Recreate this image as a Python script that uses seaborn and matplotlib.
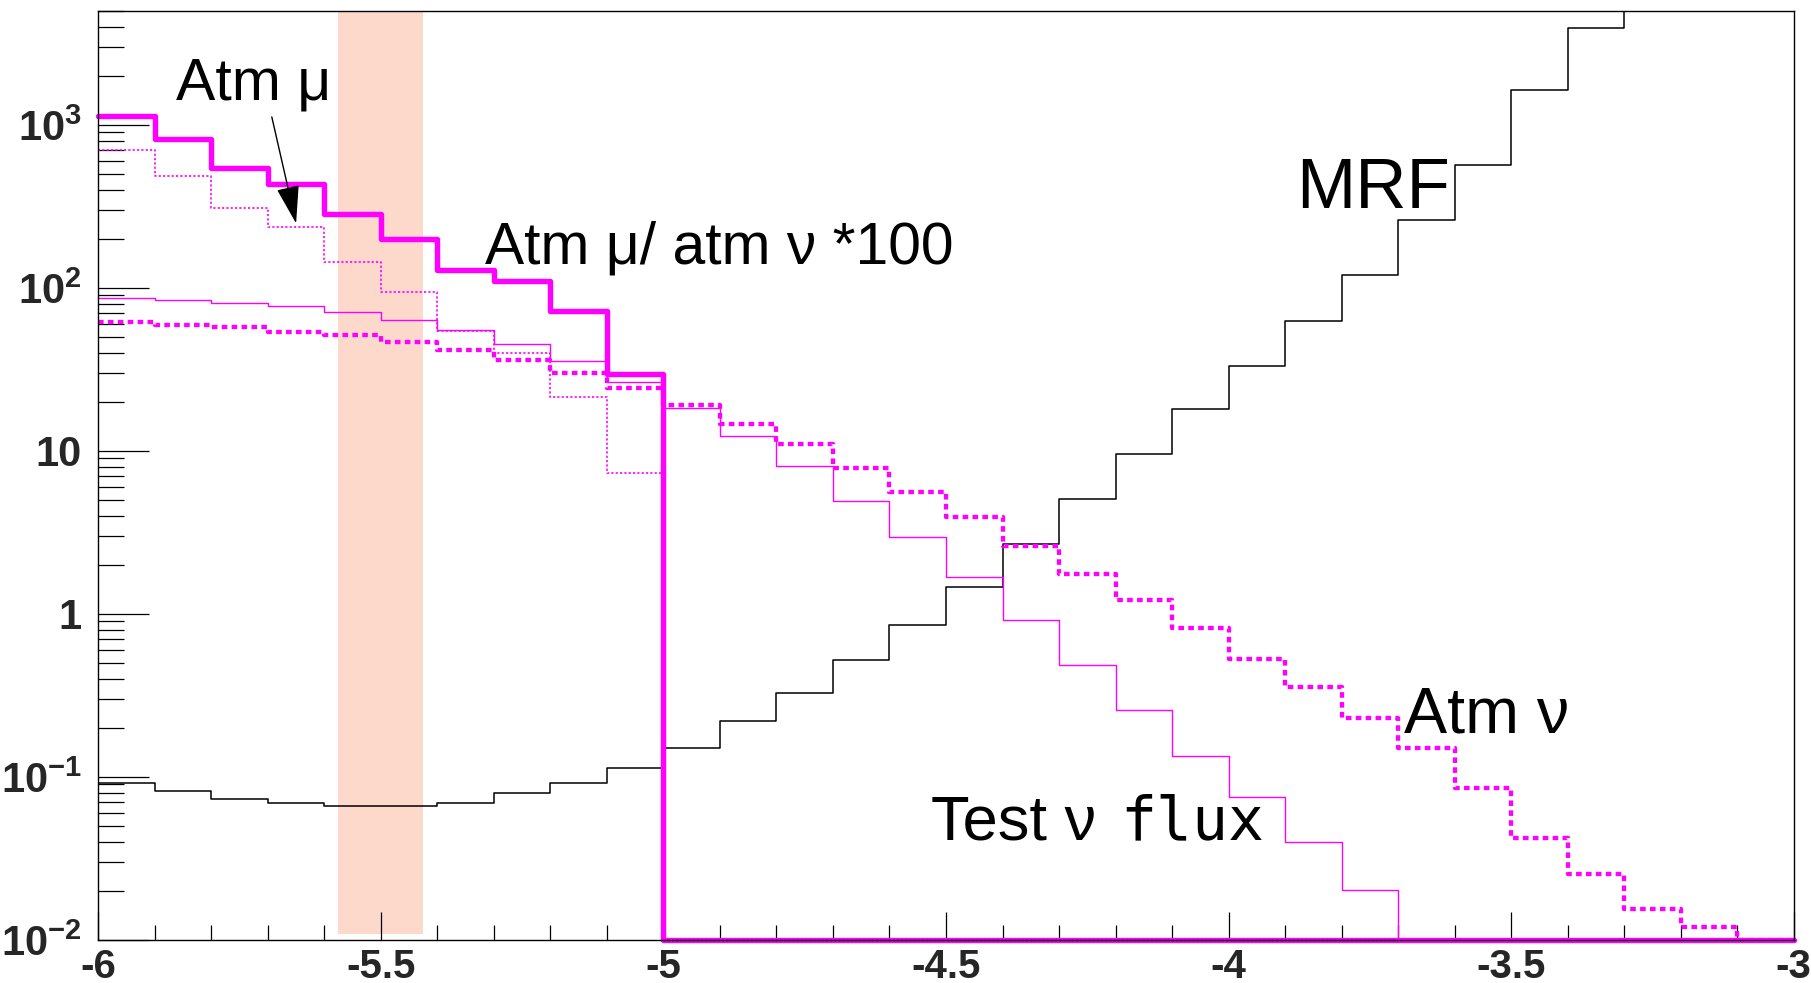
import numpy as np
import seaborn as sns
import matplotlib.pyplot as plt
import matplotlib.ticker as mticker

# 30 bins of 0.1 between -6 and -3
x_lo, x_hi, n_bins = -6.0, -3.0, 30
edges = np.linspace(x_lo, x_hi, n_bins + 1)
y_min, y_max = 0.01, 5000

# Atm mu / atm nu * 100 (thick solid)
atm_mu_ratio = [1130, 815, 545, 435, 284, 199, 128, 110, 72.3, 29.7] + [0] * 20
# Atm mu (thin dotted)
atm_mu = [703, 489, 311, 236, 144, 94, 54.7, 39.7, 21.5, 7.36] + [0] * 20
# Test nu flux (thin solid)
test_flux = [87.3, 84.4, 80.5, 77.6, 71.6, 63.7, 55.3, 45.2, 35.7, 26.4,
             18.4, 12.4, 8.1, 4.96, 2.96, 1.69, 0.914, 0.486, 0.259, 0.1345,
             0.075, 0.0397, 0.0203, 0, 0, 0, 0, 0, 0, 0]
# Atm nu (thick dotted)
atm_nu = [62.1, 59.3, 57.9, 54.0, 51.5, 46.9, 41.7, 36.2, 30.2, 24.5,
          19.1, 14.6, 11.0, 7.9, 5.58, 3.92, 2.61, 1.76, 1.21, 0.817,
          0.527, 0.358, 0.229, 0.150, 0.0859, 0.0424, 0.0253, 0.0154, 0.0121, 0]
# MRF (black)
mrf = [0.0925, 0.0824, 0.0731, 0.0697, 0.0664, 0.0664, 0.0697, 0.0801, 0.0916, 0.1137,
       0.151, 0.221, 0.326, 0.522, 0.856, 1.47, 2.69, 5.08, 9.59, 18.0,
       33.2, 62.8, 120, 261, 569, 1640, 3950, 7500, 12000, 20000]
# empty black dotted histogram lying on the axis (-5.0 .. -3.7)
empty_hist = [0] * 13
empty_first_bin = 10

band_lo, band_hi = -5.575, -5.425

x_ticks = [-6, -5.5, -5, -4.5, -4, -3.5, -3]
x_labels = ["-6", "-5.5", "-5", "-4.5", "-4", "-3.5", "-3"]
y_ticks = [0.01, 0.1, 1, 10, 100, 1000]
y_labels = [r"$\mathbf{10^{-2}}$", r"$\mathbf{10^{-1}}$", "1", "10",
            r"$\mathbf{10^{2}}$", r"$\mathbf{10^{3}}$"]

sns.set_theme(style="white")
plt.rcParams["font.family"] = ["Liberation Sans", "DejaVu Sans"]
plt.rcParams["mathtext.fontset"] = "custom"
plt.rcParams["mathtext.bf"] = "Liberation Sans:bold"
plt.rcParams["mathtext.rm"] = "Liberation Sans"
plt.rcParams["axes.unicode_minus"] = False

MAGENTA = "#ff00ff"


def draw_hist(ax, values, bin_edges, **kw):
    vals = np.clip(np.asarray(values, dtype=float), y_min, None)
    y = np.append(vals, vals[-1])
    sns.lineplot(x=bin_edges, y=y, drawstyle="steps-post", estimator=None,
                 sort=False, ax=ax, **kw)


fig = plt.figure(figsize=(18.11, 9.83), dpi=100)
ax = fig.add_axes([0.05428, 0.04374, 0.93617, 0.94507])
ax.set_yscale("log")
ax.set_xlim(x_lo, x_hi)
ax.set_ylim(y_min, y_max)

ax.axvspan(band_lo, band_hi, ymin=0.006, ymax=1, color="#fdd9cb", lw=0, zorder=0.5)

draw_hist(ax, mrf, edges, color="black", linewidth=1.1, zorder=2)
draw_hist(ax, test_flux, edges, color=MAGENTA, linewidth=1.0, zorder=2.2, clip_on=False)
draw_hist(ax, atm_mu, edges, color=MAGENTA, linewidth=1.2,
          linestyle=(0, (1.3, 1.3)), zorder=2.3, clip_on=False)
draw_hist(ax, atm_nu, edges, color=MAGENTA, linewidth=3.1,
          linestyle=(0, (1.3, 1.0)), zorder=2.4, clip_on=False)
draw_hist(ax, atm_mu_ratio, edges, color=MAGENTA, linewidth=3.9, zorder=2.5, clip_on=False)
draw_hist(ax, empty_hist, edges[empty_first_bin:empty_first_bin + len(empty_hist) + 1],
          color="black", linewidth=1.0, linestyle=(0, (1.5, 1.5)), zorder=3, clip_on=False)

# axes styling, ROOT-like inward ticks
for s in ax.spines.values():
    s.set_color("black")
    s.set_linewidth(1.0)
ax.xaxis.set_major_locator(mticker.FixedLocator(x_ticks))
ax.xaxis.set_major_formatter(mticker.FixedFormatter(x_labels))
ax.xaxis.set_minor_locator(mticker.MultipleLocator(0.1))
ax.yaxis.set_major_locator(mticker.FixedLocator(y_ticks))
ax.yaxis.set_major_formatter(mticker.FixedFormatter(y_labels))
ax.yaxis.set_minor_locator(mticker.LogLocator(base=10, subs=np.arange(2, 10), numticks=20))
ax.yaxis.set_minor_formatter(mticker.NullFormatter())

ax.tick_params(axis="x", which="major", direction="in", length=20, width=0.9,
               color="black", pad=6, labelsize=29, top=False, bottom=True)
ax.tick_params(axis="x", which="minor", direction="in", length=11, width=0.9,
               color="black", top=False, bottom=True)
ax.tick_params(axis="y", which="major", direction="in", length=37, width=0.9,
               color="black", pad=12, labelsize=30, left=True, right=False)
ax.tick_params(axis="y", which="minor", direction="in", length=19, width=0.9,
               color="black", left=True, right=False)
for lab in ax.get_xticklabels() + ax.get_yticklabels():
    lab.set_fontweight("bold")
ax.set_xlabel("")
ax.set_ylabel("")
ax.grid(False)

# labels
ax.text(-5.862, 1432, "Atm μ", fontsize=42.5, color="black")
ax.annotate("", xy=(-5.650, 249), xytext=(-5.693, 1120),
            arrowprops=dict(arrowstyle="-|>,head_length=1.2,head_width=0.36",
                            color="black", lw=1.0, mutation_scale=20,
                            shrinkA=0, shrinkB=0), zorder=4)
ax.text(-5.315, 141, "Atm μ/ atm ν *100", fontsize=42.3, color="black")
ax.text(-3.881, 308, "MRF", fontsize=51, color="black")
ax.text(-3.690, 0.188, "Atm ν", fontsize=46.5, color="black")
ax.text(-4.526, 0.0413, "Test ν", fontsize=45.5, color="black")
ax.text(-4.191, 0.0413, "flux", fontsize=43, color="black", family="DejaVu Sans Mono")

fig.savefig("out.png", dpi=100, facecolor="white")
